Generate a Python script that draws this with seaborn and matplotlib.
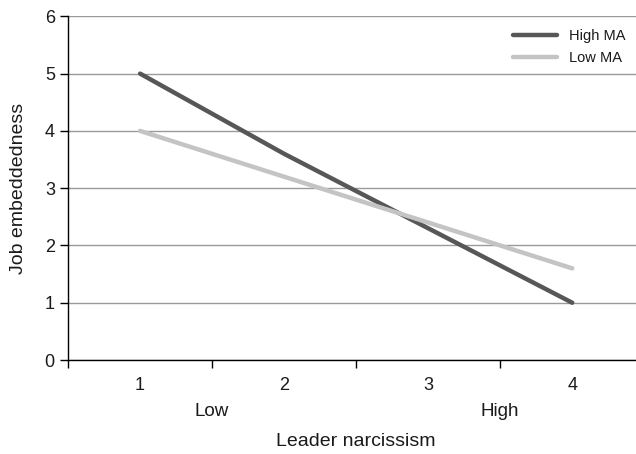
import pandas as pd
import seaborn as sns
import matplotlib.pyplot as plt

# values
narcissism = [1, 2, 3, 4]
high_ma = [5.0, 3.6, 2.3, 1.0]
low_ma = [4.0, 3.2, 2.4, 1.6]
series_names = ["High MA", "Low MA"]
y_ticks = [0, 1, 2, 3, 4, 5, 6]
level_labels = ["Low", "High"]

df = pd.DataFrame({
    "x": narcissism * 2,
    "y": high_ma + low_ma,
    "group": [series_names[0]] * 4 + [series_names[1]] * 4,
})

sns.set_style("white")
plt.rcParams['font.family'] = ['Liberation Sans', 'DejaVu Sans']
plt.rcParams['text.color'] = '#1a1a1a'
plt.rcParams['axes.labelcolor'] = '#1a1a1a'
plt.rcParams['xtick.labelcolor'] = '#1a1a1a'
plt.rcParams['ytick.labelcolor'] = '#1a1a1a'

fig = plt.figure(figsize=(6.36, 4.54), dpi=100)
ax = fig.add_axes([0.107, 0.207, 0.906, 0.757])

for v in y_ticks:
    ax.axhline(v, color="#9a9a9a", lw=1.0, zorder=0)

sns.lineplot(data=df, x="x", y="y", hue="group",
             palette={"High MA": "#575757", "Low MA": "#c4c4c4"},
             linewidth=3.2, ax=ax, legend=True)

ax.set_xlim(0.5, 4.5)
ax.set_ylim(0, 6)
ax.set_yticks(y_ticks)
ax.set_xticks(narcissism)
ax.set_xticks([0.5, 1.5, 2.5, 3.5], minor=True)
ax.tick_params(axis="x", which="major", length=0, pad=12, labelsize=13)
ax.tick_params(axis="x", which="minor", bottom=True, length=6, width=1,
               direction="out", color="black")
ax.tick_params(axis="y", length=6, width=1, direction="out", color="black",
               labelsize=13, left=True)

for s in ["top", "right"]:
    ax.spines[s].set_visible(False)
for s in ["left", "bottom"]:
    ax.spines[s].set_color("black")
    ax.spines[s].set_linewidth(1.0)

ax.set_ylabel("Job embeddedness", fontsize=14, labelpad=13)
ax.set_xlabel("Leader narcissism", fontsize=14)
ax.xaxis.set_label_coords(0.5, -0.212)

trans = ax.get_xaxis_transform()
for xpos, lab in zip([1.5, 3.5], level_labels):
    ax.text(xpos, -0.151, lab, transform=trans, ha="center", va="center", fontsize=13.5)

ax.legend(loc="upper right", bbox_to_anchor=(0.99, 1.0), frameon=False,
          fontsize=10.5, handlelength=3.0, labelspacing=0.5)

fig.savefig("out.png", dpi=100)
